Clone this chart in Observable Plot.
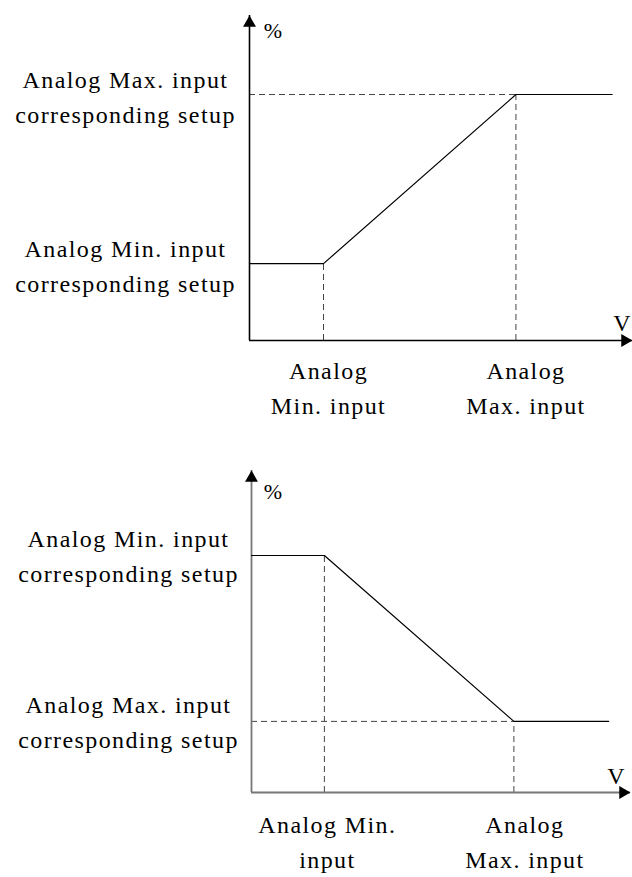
<!DOCTYPE html>
<html><head><meta charset="utf-8">
<script src="https://cdn.jsdelivr.net/npm/d3@7"></script>
<script src="https://cdn.jsdelivr.net/npm/@observablehq/plot@0.6"></script>
<style>
html,body{margin:0;padding:0;background:#fff;overflow:hidden}
#c svg{display:block}
#c svg text{font-family:'Liberation Serif','Times New Roman',Times,serif;letter-spacing:1.4px}
</style>
</head><body><div id="c"></div>
<script>
// Breakpoints of the characteristic curve (input voltage, arbitrary units)
const vPoints = [0, 2, 7.2, 9.8];
// Output setting (%) at each breakpoint
const risingPct = [25, 25, 80, 80];
const fallingPct = [80, 80, 24, 24];
// Axis extents (V, %)
const topAxisMax = [10.35, 105.7];
const bottomAxisMax = [10.4, 108.7];
// Labels
const topInputLabels = ["Analog\nMin. input", "Analog\nMax. input"];
const bottomInputLabels = ["Analog Min.\ninput", "Analog\nMax. input"];
const topLevelLabels = ["Analog Min. input\ncorresponding setup", "Analog Max. input\ncorresponding setup"];
const bottomLevelLabels = ["Analog Min. input\ncorresponding setup", "Analog Max. input\ncorresponding setup"];
const yUnit = "%";
const xUnit = "V";

const FONT = "'Liberation Serif', 'Times New Roman', Times, serif";

function chart(o) {
  const pct = o.pct;
  const pts = vPoints.map((v, i) => ({v, p: pct[i]}));
  const xMax = o.axisMax[0], yMax = o.axisMax[1];
  const minIn = vPoints[1], maxIn = vPoints[2];
  const levelMin = pct[1], levelMax = pct[2];
  const dash = {stroke: "#444", strokeWidth: 1, strokeDasharray: "6,4"};
  const txt = {fontSize: 24, fontFamily: FONT, fill: "#000", textAnchor: "middle", lineHeight: 1.45};
  return Plot.plot({
    width: 632,
    height: o.height,
    margin: 0,
    x: {domain: [0, xMax], range: o.xRange, axis: null},
    y: {domain: [0, yMax], range: o.yRange, axis: null},
    style: {fontFamily: FONT, background: "#fff", overflow: "visible"},
    marks: [
      Plot.ruleY([{y: levelMax, x1: 0, x2: maxIn}], {y: "y", x1: "x1", x2: "x2", ...dash}),
      Plot.ruleX([{x: minIn, y1: 0, y2: levelMin}, {x: maxIn, y1: 0, y2: levelMax}], {x: "x", y1: "y1", y2: "y2", ...dash}),
      Plot.ruleX([{x: 0, y1: 0, y2: yMax}], {x: "x", y1: "y1", y2: "y2", stroke: o.axisColor, strokeWidth: o.axisWidth}),
      Plot.ruleY([{y: 0, x1: 0, x2: xMax}], {y: "y", x1: "x1", x2: "x2", stroke: o.axisColor, strokeWidth: o.axisWidth}),
      Plot.dot([{x: 0, y: yMax}], {x: "x", y: "y", symbol: "triangle", r: 4.8, fill: "#000", stroke: "none", dy: 7.5}),
      Plot.dot([{x: xMax, y: 0}], {x: "x", y: "y", symbol: "triangle", r: 4.8, fill: "#000", stroke: "none", rotate: 90, dx: -7.5}),
      Plot.line(pts, {x: "v", y: "p", stroke: "#000", strokeWidth: 1.2}),
      Plot.text([{y: levelMin, t: o.levelLabels[0]}, {y: levelMax, t: o.levelLabels[1]}], {
        ...txt, x: () => 0, y: "y", text: "t", dx: o.levelDx, dy: o.levelDy, lineAnchor: "middle"
      }),
      Plot.text([{x: minIn, t: o.inputLabels[0]}], {
        ...txt, x: "x", y: () => 0, text: "t", dx: o.inputDx[0], dy: o.inputDy, lineAnchor: "top"
      }),
      Plot.text([{x: maxIn, t: o.inputLabels[1]}], {
        ...txt, x: "x", y: () => 0, text: "t", dx: o.inputDx[1], dy: o.inputDy, lineAnchor: "top"
      }),
      Plot.text([yUnit], {...txt, x: () => 0, y: () => yMax, text: d => d, dx: o.pctDx, dy: o.pctDy, fontSize: 22}),
      Plot.text([xUnit], {...txt, x: () => xMax, y: () => 0, text: d => d, dx: o.vDx, dy: o.vDy})
    ]
  });
}

const chartTop = chart({
  pct: risingPct, axisMax: topAxisMax, height: 435,
  xRange: [249, 632], yRange: [340, 15],
  axisColor: "#000", axisWidth: 1.6,
  levelLabels: topLevelLabels, levelDx: -124, levelDy: 0,
  inputLabels: topInputLabels, inputDx: [5, 10], inputDy: 14,
  pctDx: 24, pctDy: 12, vDx: -10, vDy: -21
});
const chartBottom = chart({
  pct: fallingPct, axisMax: bottomAxisMax, height: 442,
  xRange: [251, 630], yRange: [357, 35],
  axisColor: "#777", axisWidth: 1.8,
  levelLabels: bottomLevelLabels, levelDx: -123, levelDy: -2,
  inputLabels: bottomInputLabels, inputDx: [3, 11], inputDy: 16,
  pctDx: 22, pctDy: 18, vDx: -14, vDy: -20
});
document.getElementById("c").append(chartTop, chartBottom);
</script>
</body></html>
